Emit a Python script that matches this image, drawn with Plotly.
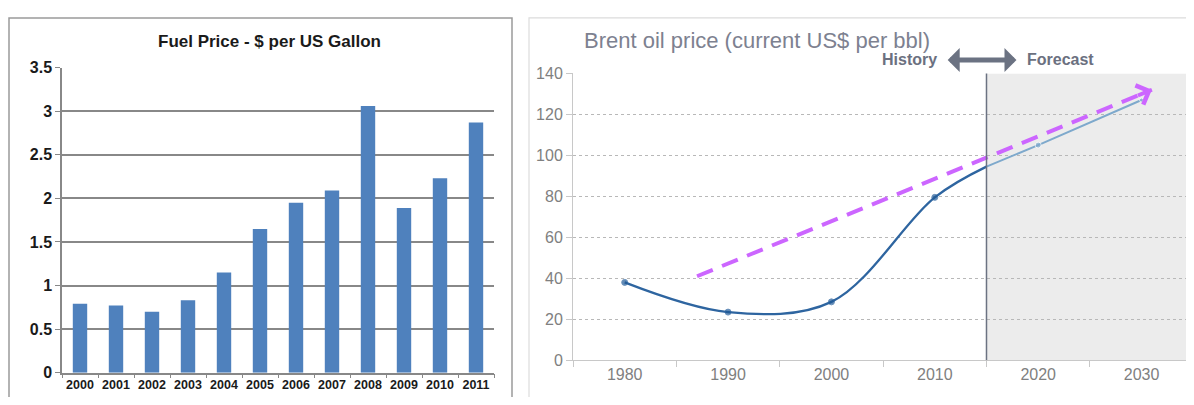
import plotly.graph_objects as go

# ---------------- data ----------------
fuel_years = ['2000', '2001', '2002', '2003', '2004', '2005',
              '2006', '2007', '2008', '2009', '2010', '2011']
fuel_price = [0.79, 0.77, 0.70, 0.83, 1.15, 1.65, 1.95, 2.09, 3.06, 1.89, 2.23, 2.87]

hist_years = [1980, 1990, 2000, 2010, 2015]
hist_price = [38, 23.5, 28.5, 79.5, 94.5]
hist_marker = [6, 6, 6, 6, 0]

fc_years = [2015, 2020, 2030]
fc_price = [94.5, 105, 127]
fc_marker = [0, 6, 4]

trend_years = [1987, 2031]
trend_values = [41, 132]

brent_ticks = [1980, 1990, 2000, 2010, 2020, 2030]
split_year = 2015
x2_range = [1975, 2034.3]
y2_range = [0, 140]

# page is photographed with the 8px body margin around the figure
W, H = 1178, 389
OFF = 8
FONT = 'Liberation Sans, Arial, sans-serif'

fig = go.Figure()

# left bar chart
fig.add_trace(go.Bar(x=fuel_years, y=fuel_price, marker_color='#4f81bd',
                     marker_line_width=0, xaxis='x', yaxis='y', showlegend=False))

# right chart
fig.add_trace(go.Scatter(x=trend_years, y=trend_values, mode='lines',
                         line=dict(color='#cc66ff', width=4, dash='17px,10px'),
                         xaxis='x2', yaxis='y2', showlegend=False))
fig.add_trace(go.Scatter(x=fc_years, y=fc_price, mode='lines+markers',
                         line=dict(color='#7ea9cc', width=2),
                         marker=dict(size=fc_marker, color='#7ea9cc'),
                         xaxis='x2', yaxis='y2', showlegend=False))
fig.add_trace(go.Scatter(x=hist_years, y=hist_price, mode='lines+markers',
                         line=dict(color='#2e65a0', width=2.3, shape='spline', smoothing=1.0),
                         marker=dict(size=hist_marker, color='#1f5996'),
                         xaxis='x2', yaxis='y2', showlegend=False))

def px(x):
    return min(max((x - OFF) / W, 0.0), 1.0)

def py(y):
    return 1 - (y - OFF) / H

fig.update_layout(
    width=W, height=H,
    margin=dict(l=0, r=0, t=0, b=0),
    paper_bgcolor='white', plot_bgcolor='white',
    bargap=0.6,
    font=dict(family=FONT),
    xaxis=dict(domain=[px(62), px(494)], type='category', tickangle=0,
               tickson='boundaries', ticks='outside', ticklen=4, tickcolor='#888888',
               showline=True, linecolor='#888888', linewidth=1.5,
               showgrid=False,
               tickfont=dict(family=FONT, size=12.5, color='#1a1a1a', weight='bold')),
    yaxis=dict(domain=[py(381), py(62)], range=[0, 3.5], dtick=0.5,
               showgrid=True, gridcolor='#888888', gridwidth=1.5,
               showline=True, linecolor='#888888', linewidth=1.5,
               ticks='outside', ticklen=5, tickcolor='#888888', zeroline=False,
               tickfont=dict(family=FONT, size=16, color='#1a1a1a', weight='bold')),
    xaxis2=dict(domain=[px(573), px(1194)], range=x2_range, anchor='y2',
                tickmode='array', tickvals=brent_ticks, ticks='',
                minor=dict(tick0=x2_range[0], dtick=10, ticks='outside', ticklen=6,
                           tickcolor='#c8c8c8', showgrid=False),
                showline=True, linecolor='#c8c8c8', linewidth=1,
                showgrid=False, zeroline=False,
                tickfont=dict(family=FONT, size=16, color='#808080')),
    yaxis2=dict(domain=[py(368), py(68)], range=y2_range, dtick=20, anchor='x2',
                showgrid=True, gridcolor='#b8b8b8', griddash='dot', gridwidth=1,
                showline=True, linecolor='#c8c8c8', linewidth=1,
                ticks='outside', ticklen=6, tickcolor='#c8c8c8', zeroline=False,
                tickfont=dict(family=FONT, size=16, color='#808080')),
)

shapes = [
    # forecast shading
    dict(type='rect', xref='x2', yref='y2', x0=split_year, x1=x2_range[1],
         y0=y2_range[0], y1=y2_range[1], fillcolor='#ececec', line_width=0, layer='below'),
    # split line
    dict(type='line', xref='x2', yref='y2', x0=split_year, x1=split_year,
         y0=0, y1=146.5, line=dict(color='#6b7282', width=1.5)),
    # left panel border
    dict(type='rect', xref='paper', yref='paper', x0=px(9), x1=px(512), y0=-0.1, y1=py(10),
         line=dict(color='#9a9a9a', width=1.5), fillcolor='rgba(0,0,0,0)'),
    # right panel border
    dict(type='rect', xref='paper', yref='paper', x0=px(529), x1=1.1, y0=-0.1, y1=py(10),
         line=dict(color='#dcdcdc', width=1.2), fillcolor='rgba(0,0,0,0)'),
]

annotations = [
    dict(text='Fuel Price - $ per US Gallon', xref='paper', yref='paper',
         x=px(269), y=py(35), showarrow=False, xanchor='center', yanchor='middle',
         font=dict(family=FONT, size=17, color='#1a1a1a', weight='bold')),
    dict(text='Brent oil price (current US$ per bbl)', xref='paper', yref='paper',
         x=px(582), y=py(34), showarrow=False, xanchor='left', yanchor='middle',
         font=dict(family=FONT, size=22, color='#7d8190')),
    dict(text='History', xref='x2', yref='paper', x=2010.4, y=py(53), showarrow=False,
         xanchor='right', yanchor='middle',
         font=dict(family=FONT, size=16, color='#6b7080', weight='bold')),
    dict(text='Forecast', xref='x2', yref='paper', x=2018.7, y=py(53), showarrow=False,
         xanchor='left', yanchor='middle',
         font=dict(family=FONT, size=16, color='#6b7080', weight='bold')),
    # double arrow history/forecast
    dict(text='', xref='x2', yref='paper', axref='x2', ayref='pixel',
         x=2017.9, y=py(54), ax=2011.1, ay=0, showarrow=True,
         arrowhead=1, startarrowhead=1, arrowside='end+start',
         arrowwidth=5, arrowsize=0.8, startarrowsize=0.8, arrowcolor='#6b7282'),
    # trend arrow head
    dict(text='', xref='x2', yref='y2', axref='x2', ayref='y2',
         x=trend_years[1], y=trend_values[1],
         ax=trend_years[1] - 1.5, ay=trend_values[1] - 3.1, showarrow=True,
         arrowhead=4, arrowwidth=4, arrowsize=1, arrowcolor='#cc66ff'),
]

fig.update_layout(shapes=shapes, annotations=annotations)

fig.write_html('out.html')
